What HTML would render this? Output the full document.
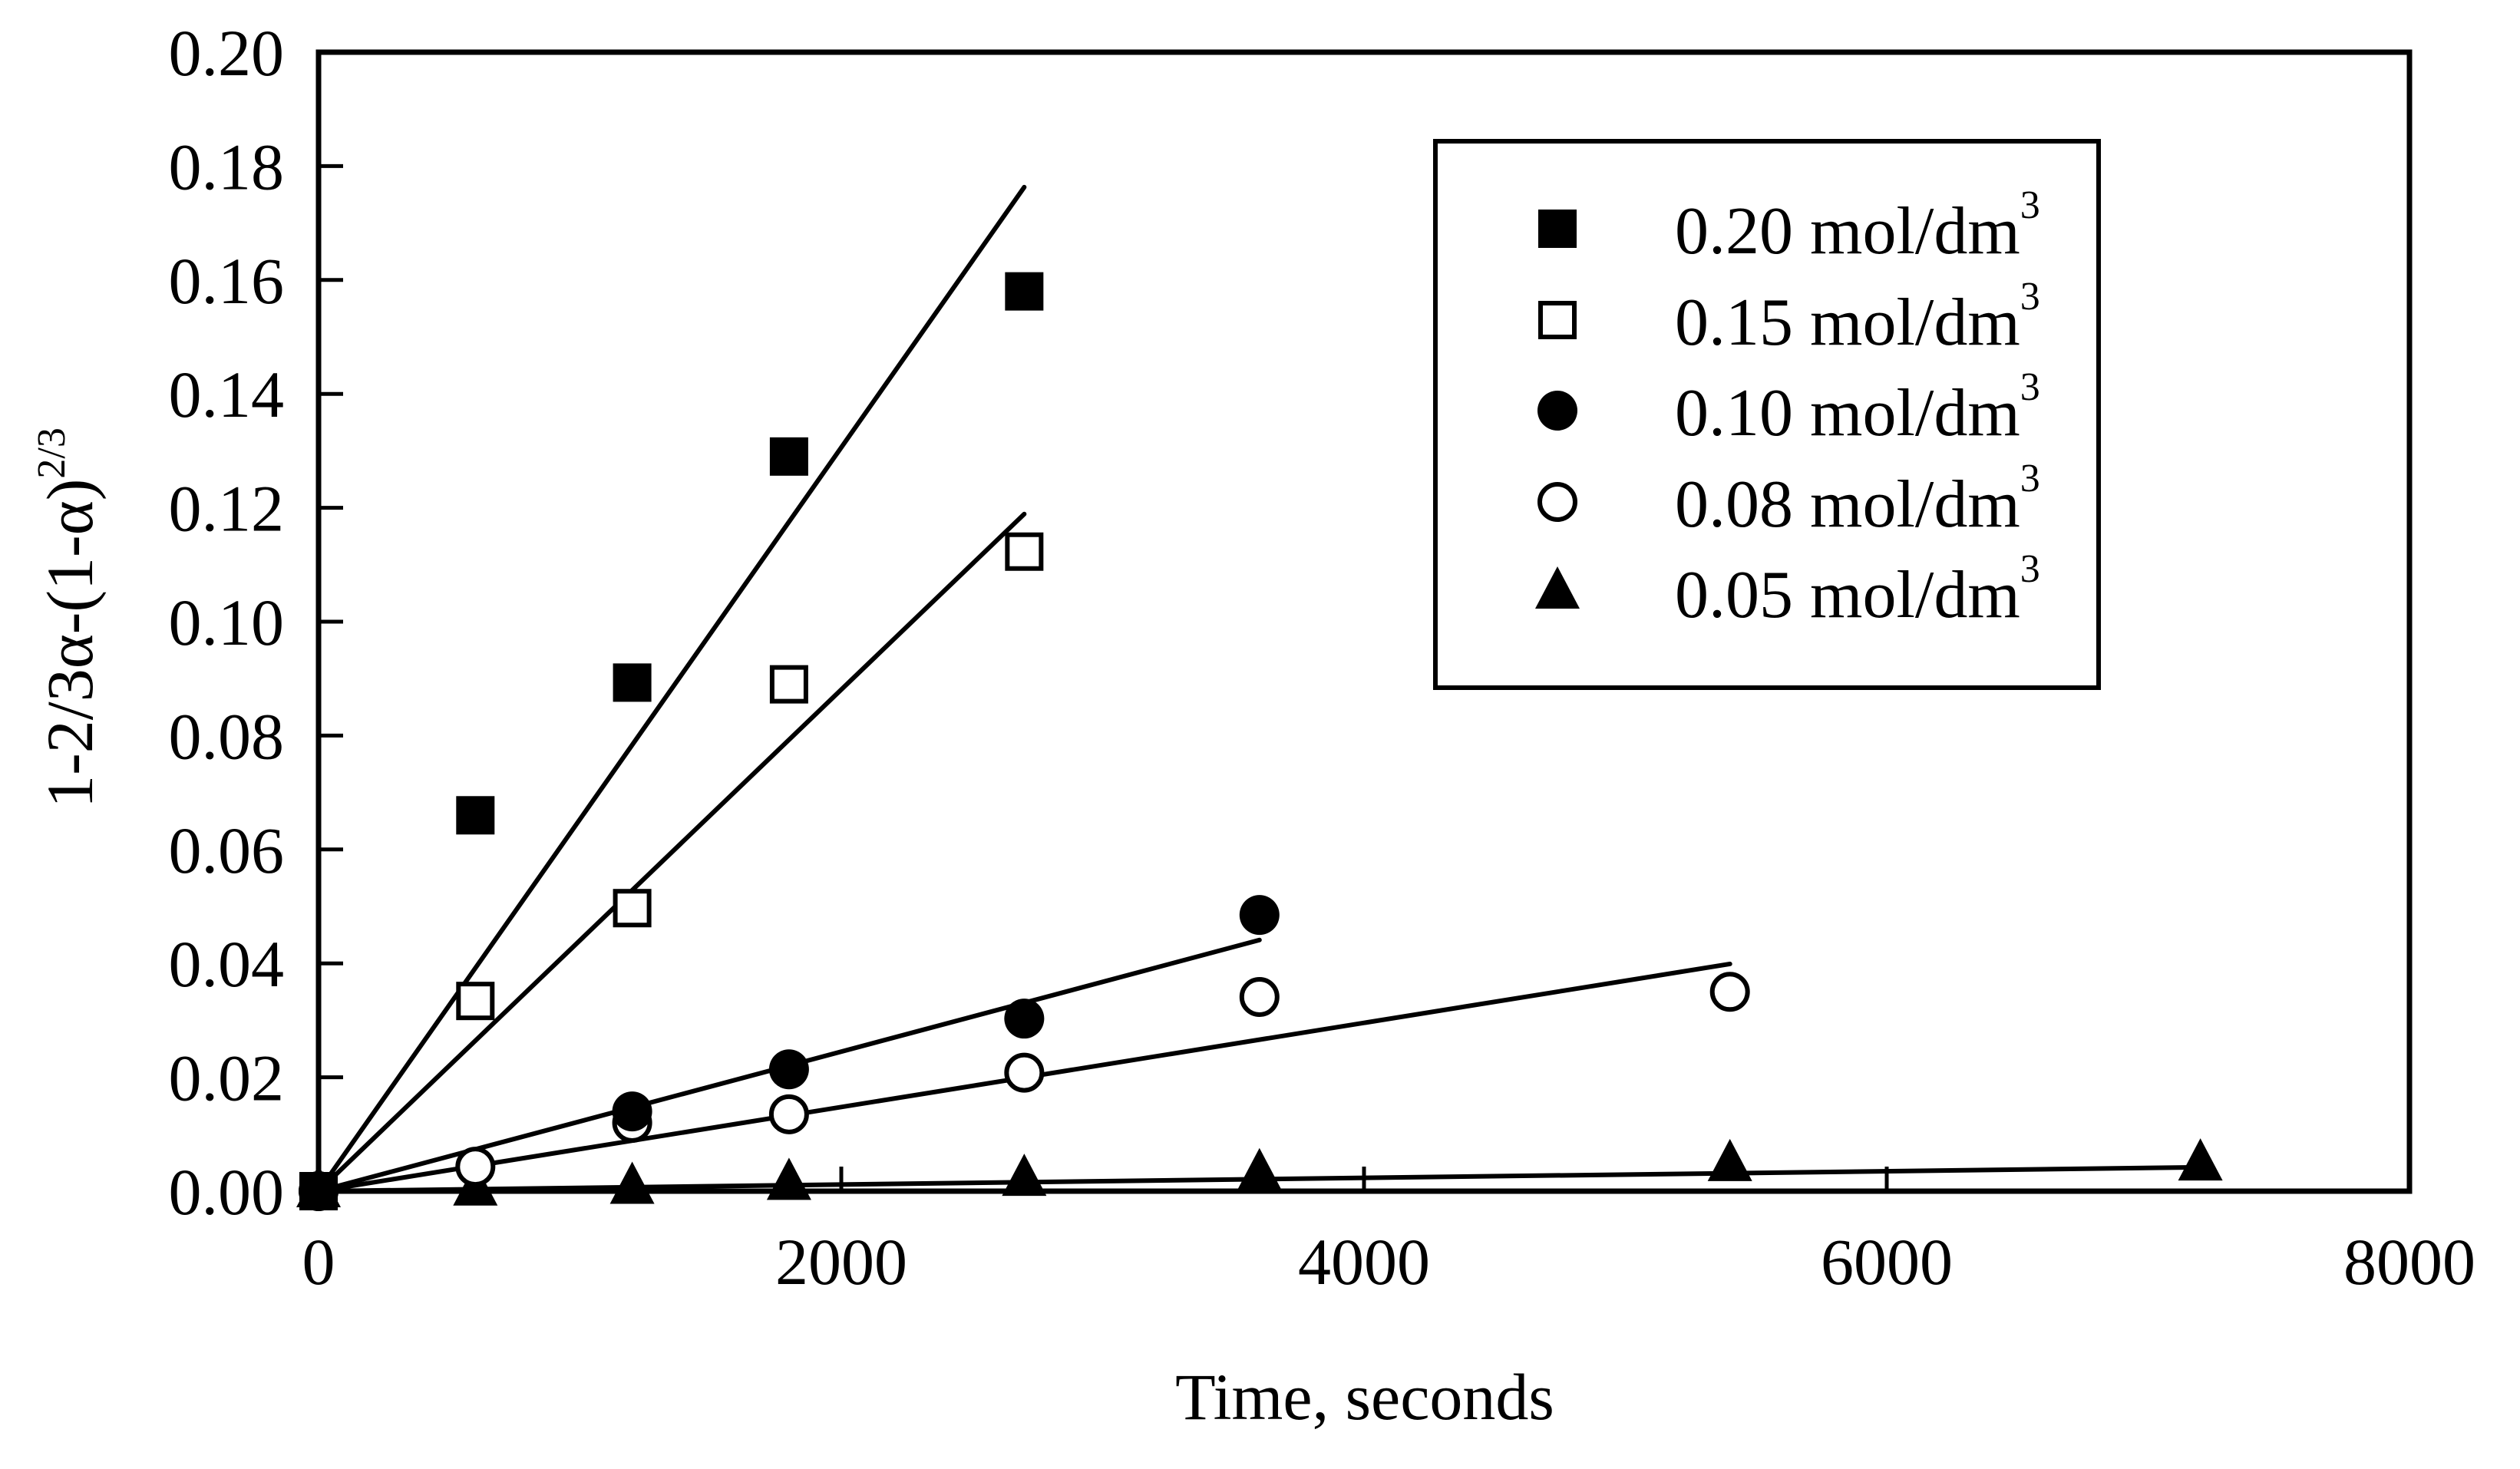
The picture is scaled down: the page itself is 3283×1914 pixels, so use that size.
<!DOCTYPE html>
<html><head><meta charset="utf-8"><style>
html,body{margin:0;padding:0;background:#fff;}
svg{display:block;font-family:"Liberation Serif",serif;}
</style></head><body>
<svg id="chart" width="3283" height="1914" viewBox="0 0 3283 1914" xmlns="http://www.w3.org/2000/svg">
<rect width="3283" height="1914" fill="#fff"/>
<g id="marks"></g>
<rect x="415" y="68" width="2724" height="1484" fill="none" stroke="#000" stroke-width="7"/>
<g id="axes"></g>
<text x="1778" y="1849" font-size="86" text-anchor="middle">Time, seconds</text>
<text transform="translate(120,805) rotate(-90)" font-size="86" text-anchor="middle">1-2/3α-(1-α)<tspan font-size="52" dy="-36">2/3</tspan></text>
<g id="legend">
<rect x="1870" y="184" width="864" height="712" fill="none" stroke="#000" stroke-width="6"/>
</g>
</svg>
<script>
const categories = ["0.20 mol/dm", "0.15 mol/dm", "0.10 mol/dm", "0.08 mol/dm", "0.05 mol/dm"];
const markers = ["fsquare", "osquare", "fcircle", "ocircle", "ftriangle"];
const times020 = [0, 600, 1200, 1800, 2700];
const vals020 = [0, 0.066, 0.0893, 0.129, 0.158];
const times015 = [0, 600, 1200, 1800, 2700];
const vals015 = [0, 0.0334, 0.0497, 0.089, 0.1123];
const times010 = [0, 1200, 1800, 2700, 3600];
const vals010 = [0, 0.0140, 0.0214, 0.0303, 0.0485];
const times008 = [0, 600, 1200, 1800, 2700, 3600, 5400];
const vals008 = [0, 0.0043, 0.0120, 0.0135, 0.0208, 0.0341, 0.035];
const times005 = [0, 600, 1200, 1800, 2700, 3600, 5400, 7200];
const vals005 = [0, 0.0003, 0.0006, 0.0013, 0.0020, 0.0030, 0.0046, 0.0047];
const fitEndX = [2700, 2700, 3600, 5400, 7200];
const fitEndY = [0.1763, 0.1189, 0.0441, 0.0399, 0.0042];
const xTicks = [0, 2000, 4000, 6000, 8000];
const xTickLabels = ["0", "2000", "4000", "6000", "8000"];
const yTicks = [0, 0.02, 0.04, 0.06, 0.08, 0.10, 0.12, 0.14, 0.16, 0.18, 0.20];
const yTickLabels = ["0.00","0.02","0.04","0.06","0.08","0.10","0.12","0.14","0.16","0.18","0.20"];

const NS = "http://www.w3.org/2000/svg";
const X0 = 415, X1 = 3139, Y0 = 1552, Y1 = 68;
function xs(v){ return X0 + (v - 0) / 8000 * (X1 - X0); }
function ys(v){ return Y0 - (v - 0) / 0.2 * (Y0 - Y1); }
function mk(tag, attrs, parent){
  const e = document.createElementNS(NS, tag);
  for (const k in attrs) e.setAttribute(k, attrs[k]);
  parent.appendChild(e); return e;
}
const axes = document.getElementById('axes');
const marks = document.getElementById('marks');
const legend = document.getElementById('legend');

xTicks.forEach((t, i) => {
  if (i > 0 && i < xTicks.length - 1) {
    const l = mk('line', {x1: xs(t), x2: xs(t), y1: Y0, y2: Y0 - 32, stroke: '#000', 'stroke-width': 5}, axes);
    
    
  }
  const tx = mk('text', {x: xs(t), y: 1673, 'font-size': 86, 'text-anchor': 'middle'}, axes);
  tx.textContent = xTickLabels[i];
  
  
});
yTicks.forEach((t, i) => {
  if (i > 0 && i < yTicks.length - 1) {
    const l = mk('line', {x1: X0, x2: X0 + 32, y1: ys(t), y2: ys(t), stroke: '#000', 'stroke-width': 5}, axes);
    
    
  }
  const tx = mk('text', {x: 370, y: ys(t) + 30, 'font-size': 86, 'text-anchor': 'end'}, axes);
  tx.textContent = yTickLabels[i];
  
  
});

function drawMarker(type, cx, cy, parent){
  let e;
  const s = 50;
  if (type === 'fsquare') e = mk('rect', {x: cx - s/2, y: cy - s/2, width: s, height: s, fill: '#000'}, parent);
  else if (type === 'osquare') e = mk('rect', {x: cx - s/2 + 3, y: cy - s/2 + 3, width: s - 6, height: s - 6, fill: '#fff', stroke: '#000', 'stroke-width': 6}, parent);
  else if (type === 'fcircle') e = mk('circle', {cx: cx, cy: cy, r: 26, fill: '#000'}, parent);
  else if (type === 'ocircle') e = mk('circle', {cx: cx, cy: cy, r: 23, fill: '#fff', stroke: '#000', 'stroke-width': 6}, parent);
  else e = mk('polygon', {points: (cx) + ',' + (cy - 34) + ' ' + (cx - 29) + ',' + (cy + 21) + ' ' + (cx + 29) + ',' + (cy + 21), fill: '#000'}, parent);
  return e;
}

const seriesT = [times020, times015, times010, times008, times005];
const seriesV = [vals020, vals015, vals010, vals008, vals005];
const ids = ['020', '015', '010', '008', '005'];
for (let s = 0; s < 5; s++) {
  const l = mk('line', {x1: xs(0), y1: ys(0), x2: xs(fitEndX[s]), y2: ys(fitEndY[s]), stroke: '#000', 'stroke-width': 6, 'stroke-linecap': 'round'}, marks);
  
  
}
for (let s = 4; s >= 0; s--) {
  seriesT[s].forEach((t, i) => {
    const e = drawMarker(markers[s], xs(t), ys(seriesV[s][i]), marks);
    
    
  });
}
const legY = [298, 417, 535, 654, 772];
categories.forEach((c, i) => {
  const m = drawMarker(markers[i], 2029, legY[i], legend);
  
  
  const tx = mk('text', {x: 2182, y: legY[i] + 32, 'font-size': 88}, legend);
  tx.textContent = c;
  const sup = mk('tspan', {'font-size': 52, dy: -46}, tx);
  sup.textContent = '3';
  
  
});
</script>
</body></html>
